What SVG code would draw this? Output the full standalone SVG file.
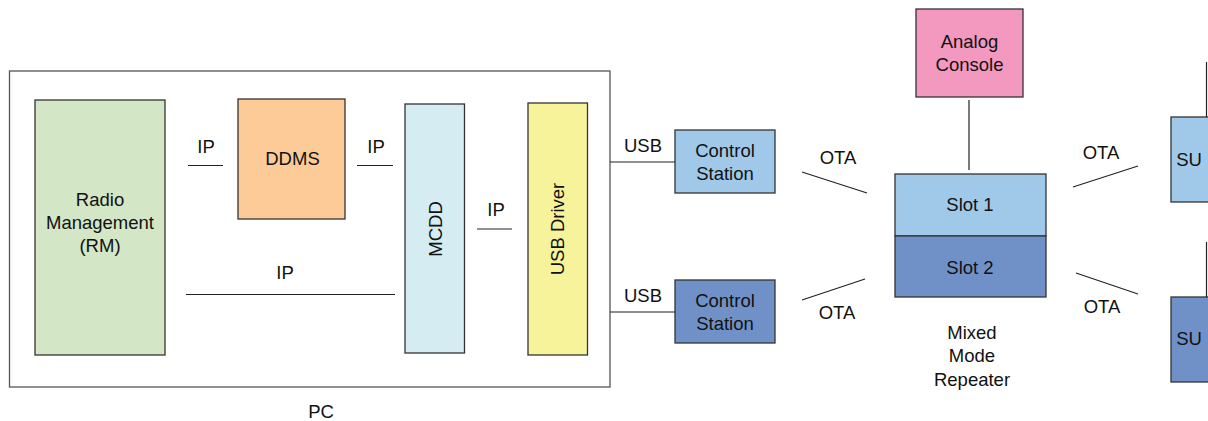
<svg xmlns="http://www.w3.org/2000/svg" width="1208" height="421" viewBox="0 0 1208 421">
<style>
text{font-family:"Liberation Sans",Arial,sans-serif;font-size:18.5px;fill:#111;text-anchor:middle;dominant-baseline:central}
.box{stroke:#333;stroke-width:1.3}
.ln{stroke:#222;stroke-width:1.2;fill:none}
</style>
<rect width="1208" height="421" fill="#fff"/>
<g id="pc">
<rect x="9.5" y="71" width="600.5" height="316" fill="none" stroke="#555" stroke-width="1.3"/>
<text x="321" y="411">PC</text>
</g>
<g id="rm">
<rect class="box" x="35" y="100" width="130" height="255" fill="#d3e6c5"/>
<text x="100" y="199">Radio</text>
<text x="100" y="222">Management</text>
<text x="100" y="245">(RM)</text>
</g>
<g id="ddms">
<rect class="box" x="238" y="99" width="107" height="120" fill="#fccb97"/>
<text x="292.5" y="158">DDMS</text>
</g>
<g id="mcdd">
<rect class="box" x="405" y="104" width="59.5" height="249" fill="#d5ecf3"/>
<text x="435" y="229" transform="rotate(-90 435 229)">MCDD</text>
</g>
<g id="usbdriver">
<rect class="box" x="528" y="103" width="59.5" height="252" fill="#f7f39b"/>
<text x="557" y="229" transform="rotate(-90 557 229)">USB Driver</text>
</g>
<g id="cs1">
<rect class="box" x="675" y="130" width="100" height="63" fill="#9fc8e9"/>
<text x="725" y="150">Control</text>
<text x="725" y="173">Station</text>
</g>
<g id="cs2">
<rect class="box" x="675" y="280" width="100" height="63" fill="#7090c8"/>
<text x="725" y="300">Control</text>
<text x="725" y="323">Station</text>
</g>
<g id="analog">
<rect class="box" x="916" y="9" width="107" height="88" fill="#f398bf"/>
<text x="969.5" y="41">Analog</text>
<text x="969.5" y="64">Console</text>
</g>
<g id="repeater">
<rect class="box" x="895" y="174" width="151" height="62" fill="#a0c8e9"/>
<rect class="box" x="895" y="236" width="151" height="61" fill="#7090c8"/>
<text x="970" y="204">Slot 1</text>
<text x="970" y="267">Slot 2</text>
<text x="972" y="332">Mixed</text>
<text x="972" y="355">Mode</text>
<text x="972" y="379">Repeater</text>
</g>
<g id="su1">
<rect class="box" x="1171" y="117" width="45" height="85" fill="#9fc8e9"/>
<text x="1189" y="159">SU</text>
</g>
<g id="su2">
<rect class="box" x="1171" y="297" width="45" height="85" fill="#7090c8"/>
<text x="1189" y="338">SU</text>
</g>
<g id="connectors">
<line class="ln" x1="188" y1="165.5" x2="223" y2="165.5"/>
<text x="206" y="146">IP</text>
<line class="ln" x1="357" y1="165.5" x2="393" y2="165.5"/>
<text x="376" y="146">IP</text>
<line class="ln" x1="477" y1="229" x2="512" y2="229"/>
<text x="496" y="209">IP</text>
<line class="ln" x1="186" y1="294.5" x2="395" y2="294.5"/>
<text x="285" y="272">IP</text>
<line class="ln" x1="610" y1="162" x2="675" y2="162"/>
<text x="643" y="145">USB</text>
<line class="ln" x1="610" y1="312" x2="675" y2="312"/>
<text x="643" y="295">USB</text>
<line class="ln" x1="802" y1="172" x2="867" y2="193"/>
<text x="838" y="157">OTA</text>
<line class="ln" x1="802" y1="300" x2="865" y2="279"/>
<text x="837" y="312">OTA</text>
<line class="ln" x1="969" y1="100" x2="969" y2="170"/>
<line class="ln" x1="1073" y1="187" x2="1138" y2="166"/>
<text x="1101" y="152">OTA</text>
<line class="ln" x1="1076" y1="273" x2="1138" y2="294"/>
<text x="1102" y="306">OTA</text>
<line class="ln" x1="1206.5" y1="62" x2="1206.5" y2="117"/>
<line class="ln" x1="1206.5" y1="242" x2="1206.5" y2="297"/>
</g>
</svg>
